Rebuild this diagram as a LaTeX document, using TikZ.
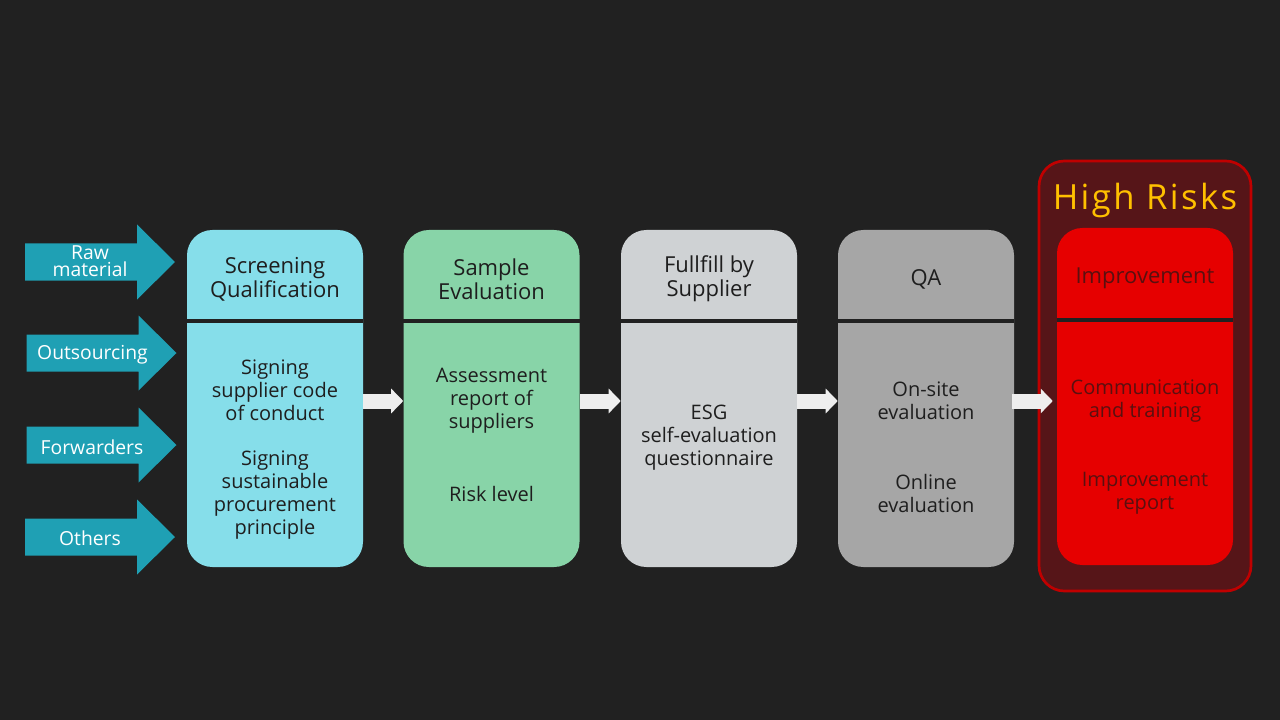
\documentclass[tikz,border=0pt]{standalone}
\usepackage{fontspec}
\setmainfont{Open Sans}
\usetikzlibrary{arrows.meta}
\definecolor{bg}{HTML}{212121}
\definecolor{teal}{HTML}{1FA0B4}
\definecolor{cA}{HTML}{86DEEA}
\definecolor{cB}{HTML}{88D4A8}
\definecolor{cC}{HTML}{CFD2D4}
\definecolor{cD}{HTML}{A6A6A6}
\definecolor{cE}{HTML}{E60000}
\definecolor{hrfill}{HTML}{561518}
\definecolor{hrline}{HTML}{C00000}
\definecolor{gold}{HTML}{FFC000}
\definecolor{txt}{HTML}{1E1E1E}
\definecolor{redtxt}{HTML}{5A1010}
\definecolor{arrw}{HTML}{EEEEEE}
\begin{document}
\begin{tikzpicture}[x=0.75pt,y=-0.75pt,
  colbox/.style={rounded corners=19pt, minimum width=132pt, minimum height=252.75pt, inner sep=0pt, draw=none},
  head/.style={align=center, font=\fontsize{16.5}{18}\selectfont, text=txt, inner sep=0pt},
  body/.style={align=center, font=\fontsize{15}{17.25}\selectfont, text=txt, inner sep=0pt},
  divider/.style={draw=bg, line width=3pt},
  inarrow/.style={fill=teal, draw=none},
  atxt/.style={align=center, text=white, inner sep=0pt, font=\fontsize{14.5}{12.75}\selectfont},
  flow/.style={draw=arrw, line width=11.25pt, -{Triangle[length=9pt,width=18pt]}}
]
\fill[bg] (0,0) rectangle (1280,720);
\useasboundingbox (0,0) rectangle (1280,720);

% incoming arrows
\foreach \yy/\xs in {262/0, 353/1.5, 445/1.5, 537/0}{
  \fill[inarrow] (25+\xs,\yy-18.5) -- (137+\xs,\yy-18.5) -- (137+\xs,\yy-37.5) -- (175+\xs,\yy)
     -- (137+\xs,\yy+37.5) -- (137+\xs,\yy+18.5) -- (25+\xs,\yy+18.5) -- cycle;
}
\node[atxt] (t1) at (90,261) {Raw\\material};
\node[atxt] (t2) at (92.5,355) {Outsourcing};
\node[atxt] (t3) at (92,447) {Forwarders};
\node[atxt] (t4) at (90,538) {Others};

% high risk frame
\node[draw=hrline, fill=hrfill, line width=2pt, rounded corners=19pt, minimum width=159pt, minimum height=322.5pt, inner sep=0pt] (hr) at (1145,376) {};
\node[text=gold, inner sep=0pt, font=\fontsize{26}{30}\selectfont\addfontfeatures{LetterSpace=7}] (hrt) at (1145,200) {High Risks};

% columns
\node[colbox, fill=cA] (c1) at (275,398.5) {};
\node[colbox, fill=cB] (c2) at (491.5,398.5) {};
\node[colbox, fill=cC] (c3) at (709,398.5) {};
\node[colbox, fill=cD] (c4) at (926,398.5) {};
\node[colbox, fill=cE] (c5) at (1145,396.5) {};

\draw[divider] (c1.west |- 0,321) -- (c1.east |- 0,321);
\draw[divider] (c2.west |- 0,321) -- (c2.east |- 0,321);
\draw[divider] (c3.west |- 0,321) -- (c3.east |- 0,321);
\draw[divider] (c4.west |- 0,321) -- (c4.east |- 0,321);
\draw[divider] (c5.west |- 0,320) -- (c5.east |- 0,320);

% texts
\node[head] (h1) at (275,279) {Screening\\Qualification};
\node[body] (b1a) at (275,390) {Signing\\supplier code\\of conduct};
\node[body] (b1b) at (275,495.5) {Signing\\sustainable\\procurement\\principle};

\node[head] (h2) at (491.5,279) {Sample\\Evaluation};
\node[body] (b2a) at (491.5,401) {Assessment\\report of\\suppliers};
\node[body] (b2b) at (491.5,494) {Risk level};

\node[head] (h3) at (709,279) {Fullfill by\\Supplier};
\node[body] (b3a) at (709,438) {ESG\\self-evaluation\\questionnaire};

\node[head] (h4) at (926,279) {QA};
\node[body] (b4a) at (926,401) {On-site\\evaluation};
\node[body] (b4b) at (926,493) {Online\\evaluation};

\node[head, text=redtxt] (h5) at (1145,278) {Improvement};
\node[body, text=redtxt] (b5a) at (1145,401.5) {Communication\\and training};
\node[body, text=redtxt] (b5b) at (1145,493.5) {Improvement\\report};

% flow arrows
\coordinate (fy) at (0,401);
\draw[flow] (c1.east |- fy) -- (c2.west |- fy);
\draw[flow] (c2.east |- fy) -- (c3.west |- fy);
\draw[flow] (c3.east |- fy) -- (c4.west |- fy);
\draw[flow] ([xshift=-1.5pt]c4.east |- fy) -- ([xshift=-3pt]c5.west |- fy);
\end{tikzpicture}
\end{document}
